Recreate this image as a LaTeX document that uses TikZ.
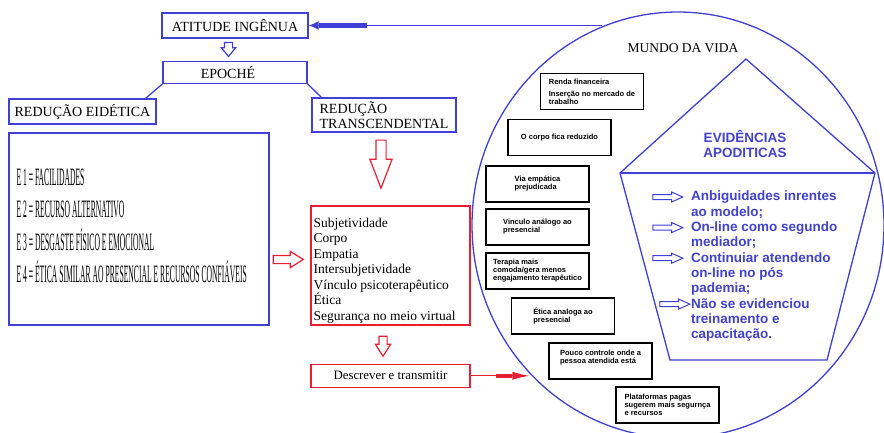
\documentclass[tikz,border=0pt]{standalone}
\usepackage{fontspec}
\setmainfont{Liberation Serif}
\newfontfamily\arialfont{Liberation Sans}
\usepackage{graphicx}
\usepackage{xcolor}
\usetikzlibrary{shapes.geometric, shapes.arrows, arrows.meta, positioning, calc}

\definecolor{azul}{RGB}{64,64,212}
\definecolor{azultexto}{RGB}{66,66,204}
\definecolor{vermelho}{RGB}{232,30,50}

\newcommand{\espremido}[1]{\scalebox{0.305}[1]{#1}}

\begin{document}
\begin{tikzpicture}[
    x=1pt, y=-1pt,
    caixaazul/.style={rectangle, draw=azul, line width=1.3pt, inner sep=0pt, font=\fontsize{14}{15}\selectfont},
    caixavermelha/.style={rectangle, draw=vermelho, line width=1.3pt, inner sep=0pt, align=left, font=\fontsize{13.5}{15.5}\selectfont},
    caixapreta/.style={rectangle, draw, line width=1.7pt, minimum width=103pt, minimum height=36pt, inner sep=0pt, align=left, font=\arialfont\bfseries\fontsize{7.5}{8}\selectfont},
    seta/.style={single arrow, draw=#1, fill=white, line width=1.2pt, inner xsep=0pt, minimum width=0pt},
    azulseta/.style={draw=azul, line width=1.3pt}
]
\useasboundingbox (0,0) rectangle (884,432);
\fill[white] (0,0) rectangle (884,432);

% lado esquerdo
\node[caixaazul, minimum width=146pt, minimum height=25pt] (atitude) at (235,25.5) {ATITUDE INGÊNUA};
\node[caixaazul, minimum width=144pt, minimum height=22pt, below=22pt of atitude] (epoche) {EPOCHÉ\hspace*{14pt}};
\node[caixaazul, minimum width=147pt, minimum height=25pt] (eidetica) at (82.5,111.5) {REDUÇÃO EIDÉTICA};
\node[caixaazul, minimum width=144pt, minimum height=34pt, align=left] (transc) at (384,115) {REDUÇÃO\\TRANSCENDENTAL};
\node[caixaazul, minimum width=260pt, minimum height=192pt] (ebox) at (139,229) {};
\node[anchor=west, align=left, inner sep=0pt, font=\fontsize{25}{32.3}\selectfont] (etexto) at ([xshift=8pt, yshift=3pt]ebox.west)
    {\espremido{E 1 = FACILIDADES}\\\espremido{E 2 = RECURSO ALTERNATIVO}\\\espremido{E 3 = DESGASTE FÍSICO E EMOCIONAL}\\\espremido{E 4 = ÉTICA SIMILAR AO PRESENCIAL E RECURSOS CONFIÁVEIS}};
\node[caixavermelha, minimum width=159pt, minimum height=119pt] (lista) at (390.5,265.5) {};
\node[anchor=north west, align=left, inner sep=0pt, font=\fontsize{13.5}{15.5}\selectfont] (listatexto) at ([xshift=3pt, yshift=-12.5pt]lista.north west)
    {Subjetividade\\Corpo\\Empatia\\Intersubjetividade\\Vínculo psicoterapêutico\\Ética\\Segurança no meio virtual};
\node[caixavermelha, minimum width=159pt, minimum height=23pt, below=38pt of lista, font=\fontsize{12.8}{14}\selectfont] (descrever) {Descrever e transmitir};

\draw[azulseta] (epoche.south west) -- ([xshift=-11pt]eidetica.north east);
\draw[azulseta] (epoche.south east) -- ([xshift=10pt]transc.north west);

\node[seta=azul, minimum height=14pt, inner ysep=3.5pt, single arrow head extend=3pt, single arrow tip angle=78, rotate=-90] (seta1) at (228.5,47) {};
\node[seta=vermelho, minimum height=48pt, inner ysep=4.5pt, single arrow head extend=6pt, single arrow tip angle=42, rotate=-90] (seta2) at (381,157.5) {};
\node[seta=vermelho, minimum height=30pt, inner ysep=3.5pt, single arrow head extend=4pt, single arrow tip angle=64] (seta3) at (285,259.5) {};
\node[seta=vermelho, minimum height=20pt, inner ysep=3.5pt, single arrow head extend=3.5pt, single arrow tip angle=65, rotate=-90] (seta4) at (383,343) {};

% mundo da vida
\node[ellipse, draw=azul, line width=1.3pt, minimum width=412pt, minimum height=426pt, inner sep=0pt] (mundo) at (678,225) {};
\node[font=\fontsize{13.5}{15}\selectfont] (titulo) at (683,48) {MUNDO DA VIDA};

\draw[azul, line width=1.3pt, -{Rectangle[length=48pt,width=4.5pt]Latex[length=10pt,width=9pt]}] (mundo.111 |- atitude.east) -- (atitude.east);
\draw[vermelho, line width=1.2pt, -{Rectangle[length=16pt,width=4.5pt]Latex[length=17pt,width=8pt]}] (descrever.east) -- (descrever.east -| mundo.225);

\node[caixapreta] (renda) at (592,91.5) {Renda financeira\\[4pt]Inserção no mercado de\\trabalho};
\node[caixapreta] (corpo) at (559.5,137.5) {O corpo fica reduzido};
\node[caixapreta] (via) at (537.5,184) {Via empática\\prejudicada};
\node[caixapreta] (vinculo) at (537.5,227) {Vinculo análogo ao\\presencial};
\node[caixapreta] (terapia) at (537.5,271) {Terapia mais\\comoda/gera menos\\engajamento terapêutico};
\node[caixapreta] (etica) at (563,316) {Ética analoga ao\\presencial};
\node[caixapreta] (pouco) at (600.5,361) {Pouco controle onde a\\pessoa atendida está\\[1pt]};
\node[caixapreta] (plataformas) at (667.5,405) {Plataformas pagas\\sugerem mais segurnça\\e recursos};

% evidencias
\coordinate (topo) at (746,59);
\coordinate (esq) at (620,173);
\coordinate (dir) at (875,173);
\coordinate (dirbaixo) at (827,360);
\coordinate (esqbaixo) at (670,360);
\draw[azulseta] (esq) -- (topo) -- (dir) -- (dirbaixo) -- (esqbaixo) -- cycle;
\draw[azulseta] (esq) -- (dir);

\node[align=center, text=azultexto, font=\arialfont\bfseries\fontsize{13.5}{15}\selectfont] (evid) at (745,144.5) {EVIDÊNCIAS\\APODITICAS};
\node[anchor=north west, align=left, inner sep=0pt, text=azultexto, font=\arialfont\bfseries\fontsize{13.5}{15.3}\selectfont] (itens) at (691,191)
    {Anbiguidades inrentes\\ao modelo;\\On-line como segundo\\mediador;\\Continuiar atendendo\\on-line no pós\\pademia;\\Não se evidenciou\\treinamento e\\capacitação.};
\foreach \k/\dx in {0/0, 2/0, 4/0, 7/7}
    \node[seta=azul, line width=1pt, minimum height=30pt, inner ysep=2pt, single arrow head extend=2.5pt, single arrow tip angle=48] (item\k) at (665+\dx, 197+\k*15.3) {};

\end{tikzpicture}
\end{document}
